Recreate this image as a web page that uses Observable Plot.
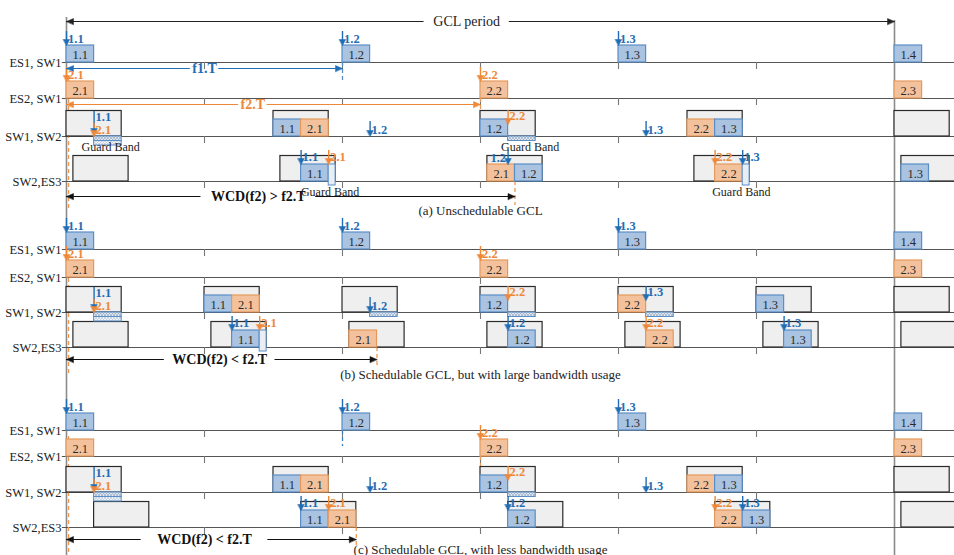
<!DOCTYPE html>
<html><head><meta charset="utf-8">
<script src="https://cdn.jsdelivr.net/npm/d3@7"></script>
<script src="https://cdn.jsdelivr.net/npm/@observablehq/plot@0.6"></script>
<style>body{margin:0;background:#fff} #chart svg{display:block}</style>
</head><body><div id="chart"></div>
<script>
// ---------- data ----------
const rowNames = ["ES1, SW1", "ES2, SW1", "SW1, SW2", "SW2,ES3"];
const panelIds = ["a", "b", "c"];
const captions = ["(a) Unschedulable GCL", "(b) Schedulable GCL, but with large bandwidth usage", "(c) Schedulable GCL, with less bandwidth usage"];
const gclPeriod = 60;            // time units (6 tick intervals)
const tickTimes = [10, 20, 30, 40, 50];

// frames: [row, start, frame id]  (every frame lasts 2 units)
const framesA = [
  [0,0,"1.1"],[0,20,"1.2"],[0,40,"1.3"],[0,60,"1.4"],
  [1,0,"2.1"],[1,30,"2.2"],[1,60,"2.3"],
  [2,15,"1.1"],[2,17,"2.1"],[2,30,"1.2"],[2,45,"2.2"],[2,47,"1.3"],
  [3,17,"1.1"],[3,30.5,"2.1"],[3,32.5,"1.2"],[3,47,"2.2"],[3,60.5,"1.3"]
];
const framesB = [
  [0,0,"1.1"],[0,20,"1.2"],[0,40,"1.3"],[0,60,"1.4"],
  [1,0,"2.1"],[1,30,"2.2"],[1,60,"2.3"],
  [2,10,"1.1"],[2,12,"2.1"],[2,30,"1.2"],[2,40,"2.2"],[2,50,"1.3"],
  [3,12,"1.1"],[3,20.5,"2.1"],[3,32,"1.2"],[3,42,"2.2"],[3,52,"1.3"]
];
const framesC = [
  [0,0,"1.1"],[0,20,"1.2"],[0,40,"1.3"],[0,60,"1.4"],
  [1,0,"2.1"],[1,30,"2.2"],[1,60,"2.3"],
  [2,15,"1.1"],[2,17,"2.1"],[2,30,"1.2"],[2,45,"2.2"],[2,47,"1.3"],
  [3,17,"1.1"],[3,19,"2.1"],[3,32,"1.2"],[3,47,"2.2"],[3,49,"1.3"]
];
// gate open windows: [row, open, close]
const gatesA = [
  [2,0,4],[2,15,19],[2,30,34],[2,45,49],[2,60,64],
  [3,0.5,4.5],[3,15.5,19.5],[3,30.5,34.5],[3,45.5,49.5],[3,60.5,64.5]
];
const gatesB = [
  [2,0,4],[2,10,14],[2,20,24],[2,30,34],[2,40,44],[2,50,54],[2,60,64],
  [3,0.5,4.5],[3,10.5,14.5],[3,20.5,24.5],[3,30.5,34.5],[3,40.5,44.5],[3,50.5,54.5],[3,60.5,64.5]
];
const gatesC = [
  [2,0,4],[2,15,19],[2,30,34],[2,45,49],[2,60,64],
  [3,2,6],[3,17,21],[3,32,36],[3,47,51],[3,60.5,64.5]
];
// arrivals: [row, time, frame id, kind]
const arrivalsA = [
  [0,0,"1.1","src"],[0,20,"1.2","src"],[0,40,"1.3","src"],
  [1,0,"2.1","src"],[1,30,"2.2","src"],
  [2,2,"1.1","q1"],[2,2,"2.1","q2"],[2,22,"1.2","qb"],[2,32,"2.2","qg"],[2,42,"1.3","qb"],
  [3,17,"1.1","eg"],[3,19,"2.1","eg"],[3,32,"1.2","egL"],[3,47,"2.2","eg"],[3,49,"1.3","eg"]
];
const arrivalsB = [
  [0,0,"1.1","src"],[0,20,"1.2","src"],[0,40,"1.3","src"],
  [1,0,"2.1","src"],[1,30,"2.2","src"],
  [2,2,"1.1","q1"],[2,2,"2.1","q2"],[2,22,"1.2","qb"],[2,32,"2.2","qg"],[2,42,"1.3","qg"],
  [3,12,"1.1","eg"],[3,14,"2.1","eg"],[3,32,"1.2","eg"],[3,42,"2.2","eg"],[3,52,"1.3","eg"]
];
const arrivalsC = [
  [0,0,"1.1","src"],[0,20,"1.2","src"],[0,40,"1.3","src"],
  [1,30,"2.2","src"],
  [2,2,"1.1","q1"],[2,2,"2.1","q2"],[2,22,"1.2","qb"],[2,32,"2.2","qg"],[2,42,"1.3","qb"],
  [3,17,"1.1","eg"],[3,19,"2.1","eg"],[3,32,"1.2","eg"],[3,47,"2.2","eg"],[3,49,"1.3","eg"]
];
// guard bands (hatched, under the line): [row, start, end, layers]
const guardsA = [[2,2,4,2],[2,32,34,1]];
const guardsB = [[2,2,4,2],[2,22,24,1],[2,32,34,1],[2,42,44,1]];
const guardsC = [[2,2,4,2],[2,32,34,1]];
// guard band tails on egress link: [row, start, end]
const tailsA = [[3,19,19.5],[3,49,49.5]];
const tailsB = [[3,14,14.5]];
const tailsC = [];
// "Guard Band" notes: [row, time]
const guardNotesA = [[2,3.2],[2,33.6],[3,19.1],[3,48.9]];
// period arrows in panel (a): [row, from, to, label, label time, flow]
const periodArrowsA = [[0,0,20,"f1.T",10,"1"],[1,0,30,"f2.T",13.5,"2"]];
// worst-case delay arrows
const wcdLabels = ["WCD(f2) > f2.T", "WCD(f2) < f2.T", "WCD(f2) < f2.T"];
const wcdEnds = [32.5, 22.5, 21];
const wcdLabelAt = [13.9, 11.1, 10];
const gclLabel = "GCL period";
const gclLabelAt = 29;

// ---------- layout / style ----------
const layout = {
  gclY: 21,
  a: {base: [62, 98, 136, 181], wcdY: 196, captionY: 210},
  b: {base: [249, 277, 312, 347], wcdY: 359, captionY: 374},
  c: {base: [430, 456, 492, 527], wcdY: 539, captionY: 549}
};
const X_RANGE = [66, 894];
const PX = (X_RANGE[1] - X_RANGE[0]) / gclPeriod;
const FRAME_W = 2, FRAME_H = 17, GATE_H = 25.5;
const flowStyle = {
  "1": {fill: "#a9c3e0", stroke: "#5b8ec6", text: "#1f6db5"},
  "2": {fill: "#f3c29d", stroke: "#e4995c", text: "#ee8838"}
};
const KIND = {
  src: {top: -31, tip: -17, lab: -23.5, side: 1},
  q1:  {top: -25, tip: -2,  lab: -20, side: 1},
  q2:  {top: -13, tip: 0,   lab: -7,  side: 1},
  qb:  {top: -15, tip: 0,   lab: -7,  side: 1},
  qg:  {top: -26, tip: -12, lab: -21, side: 1},
  eg:  {top: -31, tip: -17, lab: -25, side: 1},
  egL: {top: -31, tip: -17, lab: -24, side: -1}
};
const SERIF = "'Liberation Serif', 'Times New Roman', serif";

const panelData = {
  a: {frames: framesA, gates: gatesA, arrivals: arrivalsA, guards: guardsA, tails: tailsA, notes: guardNotesA, periods: periodArrowsA},
  b: {frames: framesB, gates: gatesB, arrivals: arrivalsB, guards: guardsB, tails: tailsB, notes: [], periods: []},
  c: {frames: framesC, gates: gatesC, arrivals: arrivalsC, guards: guardsC, tails: tailsC, notes: [], periods: []}
};

// ---------- derived tables ----------
const ctx = document.createElement("canvas").getContext("2d");
function textW(txt, font) { ctx.font = font; return ctx.measureText(txt).width; }

const baseRows = [], tickRows = [], rowLabelRows = [], gateRows = [], frameRows = [],
      guardRows = [], tailRows = [], arrowRows = [], triPts = [], noteRows = [],
      hSegs = [], hLabels = [], dashRows = [], captionRows = [];
let triId = 0;
function tri(t, y, dir, color) {
  const id = triId++;
  if (dir === "down") {
    const w = 3.2 / PX, h = 6;
    triPts.push({id, c: color, x: t - w, y: y - h}, {id, c: color, x: t + w, y: y - h}, {id, c: color, x: t, y});
  } else {
    const hx = (dir === "left" ? 7 : -7) / PX, v = 3;
    triPts.push({id, c: color, x: t, y}, {id, c: color, x: t + hx, y: y - v}, {id, c: color, x: t + hx, y: y + v});
  }
}
function hArrow(y, from, to, label, at, color, font, pad) {
  const half = (textW(label, font) / 2 + pad) / PX;
  hSegs.push({y, x1: from, x2: at - half, c: color}, {y, x1: at + half, x2: to, c: color});
  hLabels.push({y, x: at, text: label, c: color, font});
  tri(from, y, "left", color);
  tri(to, y, "right", color);
}

hArrow(layout.gclY, 0, gclPeriod, gclLabel, gclLabelAt, "#222", `14px ${SERIF}`, 9);

panelIds.forEach((p, pi) => {
  const L = layout[p], D = panelData[p], B = L.base;
  rowNames.forEach((name, r) => {
    baseRows.push({y: B[r]});
    rowLabelRows.push({y: B[r], text: name});
    tickTimes.forEach(t => tickRows.push({t, y: B[r]}));
  });
  D.gates.forEach(([r, a, b]) => gateRows.push({x1: a, x2: b, y1: B[r] - GATE_H, y2: B[r]}));
  D.frames.forEach(([r, t, id]) => {
    const s = flowStyle[id[0]];
    frameRows.push({x1: t, x2: t + FRAME_W, y1: B[r] - FRAME_H, y2: B[r], id, fill: s.fill, stroke: s.stroke});
  });
  D.guards.forEach(([r, a, b, n]) => {
    for (let k = 0; k < n; k++) guardRows.push({x1: a, x2: b, y1: B[r] + k * 4.5, y2: B[r] + (k + 1) * 4.5, layer: k});
  });
  D.tails.forEach(([r, a, b]) => tailRows.push({x1: a, x2: b, y1: B[r] - FRAME_H, y2: B[r] + 4}));
  D.notes.forEach(([r, t]) => noteRows.push({x: t, y: B[r] + 11}));
  D.arrivals.forEach(([r, t, id, kind]) => {
    const k = KIND[kind], c = flowStyle[id[0]].text;
    arrowRows.push({x: t, y1: B[r] + k.top, y2: B[r] + k.tip - 5, ly: B[r] + k.lab, text: id, side: k.side, c});
    tri(t, B[r] + k.tip, "down", c);
  });
  D.periods.forEach(([r, a, b, label, at, flow]) => {
    const c = flowStyle[flow].text;
    hArrow(B[r] + 6, a, b, label, at, c, `bold 14px ${SERIF}`, 2);
    dashRows.push({x: b, y1: B[r], y2: (flow === "1" ? B[r] + 18 : B[r + 1] - FRAME_H), c: flowStyle[flow].stroke});
  });
  hArrow(L.wcdY, 0, wcdEnds[pi], wcdLabels[pi], wcdLabelAt[pi], "#111", `bold 14px ${SERIF}`, [10, 8, 16][pi]);
  dashRows.push({x: wcdEnds[pi], y1: B[3], y2: L.wcdY + 9, c: "#ee9a55"});
  dashRows.push({x: 0.15, y1: B[1] - 20, y2: Math.min(555, L.wcdY + 14), c: "#ee9a55"});
  if (p === "c") {
    dashRows.push({x: 20, y1: B[0], y2: B[0] + 16, c: "#3b7fc0"});
    dashRows.push({x: 30, y1: B[1], y2: B[2] - FRAME_H - 1, c: "#ee9a55"});
  }
  captionRows.push({x: gclPeriod / 2, y: L.captionY, text: captions[pi]});
});

const triColors = [...new Set(triPts.map(d => d.c))];

// ---------- plot ----------
const svg = Plot.plot({
  width: 954, height: 555, margin: 0,
  x: {domain: [0, gclPeriod], range: X_RANGE, axis: null},
  y: {domain: [0, 555], range: [0, 555], axis: null},
  color: {type: "identity"},
  style: {fontFamily: SERIF, background: "#fff", overflow: "visible"},
  marks: [
    Plot.ruleX([{t: 0, top: layout.gclY - 4}, {t: gclPeriod, top: layout.gclY - 1}], {x: "t", y1: "top", y2: 555, stroke: "#8c8c8c", strokeWidth: 1.6}),
    Plot.ruleY(baseRows, {y: "y", x1: -0.3, x2: 65, stroke: "#555", strokeWidth: 1.1}),
    Plot.ruleX(tickRows, {x: "t", y1: "y", y2: d => d.y + 7, stroke: "#777", strokeWidth: 1.1}),
    Plot.ruleX(dashRows, {x: "x", y1: "y1", y2: "y2", stroke: "c", strokeWidth: 1.3, strokeDasharray: "4,3"}),
    Plot.rect(gateRows, {x1: "x1", x2: "x2", y1: "y1", y2: "y2", fill: "#efefef", stroke: "#2a2a2a", strokeWidth: 1.2}),
    Plot.rect(guardRows, {x1: "x1", x2: "x2", y1: "y1", y2: "y2", fill: d => d.layer ? "url(#hatch2)" : "url(#hatch)", stroke: "#5b8ec6", strokeWidth: 1}),
    Plot.rect(frameRows, {x1: "x1", x2: "x2", y1: "y1", y2: "y2", fill: "fill", stroke: "stroke", strokeWidth: 1.2}),
    Plot.text(frameRows, {x: d => (d.x1 + d.x2) / 2, y: d => (d.y1 + d.y2) / 2 + 0.5, text: "id", fontSize: 12.5, fill: "#2a2a2a"}),
    Plot.rect(tailRows, {x1: "x1", x2: "x2", y1: "y1", y2: "y2", fill: "#e9eef5", stroke: "#5b8ec6", strokeWidth: 1}),
    Plot.ruleX(arrowRows, {x: "x", y1: "y1", y2: "y2", stroke: "c", strokeWidth: 1.4}),
    ...triColors.map(c => Plot.line(triPts.filter(d => d.c === c), {x: "x", y: "y", z: "id", fill: c, stroke: c, strokeWidth: 0.5, curve: "linear-closed"})),
    Plot.text(arrowRows.filter(d => d.side > 0), {x: "x", y: "ly", text: "text", dx: 1.5, textAnchor: "start", fill: "c", fontSize: 12.5, fontWeight: "bold"}),
    Plot.text(arrowRows.filter(d => d.side < 0), {x: "x", y: "ly", text: "text", dx: -2, textAnchor: "end", fill: "c", fontSize: 12.5, fontWeight: "bold"}),
    Plot.ruleY(hSegs, {y: "y", x1: "x1", x2: "x2", stroke: "c", strokeWidth: 1.2}),
    Plot.text(hLabels.filter(d => d.font.startsWith("bold")), {x: "x", y: "y", text: "text", fill: "c", fontSize: 14, fontWeight: "bold"}),
    Plot.text(hLabels.filter(d => !d.font.startsWith("bold")), {x: "x", y: "y", text: "text", fill: "c", fontSize: 14}),
    Plot.text(noteRows, {x: "x", y: "y", text: () => "Guard Band", fontSize: 12, fill: "#222"}),
    Plot.text(rowLabelRows, {x: 0, y: "y", text: "text", dx: -5, textAnchor: "end", fontSize: 12.5, fill: "#222"}),
    Plot.text(captionRows, {x: "x", y: "y", text: "text", fontSize: 13, fill: "#222"})
  ]
});

// hatch patterns for guard bands
const defs = d3.select(svg).insert("defs", ":first-child");
[["hatch", "#dfe6ee", "#8ea6c2"], ["hatch2", "#f1f4f8", "#b3c3d6"]].forEach(([id, bg, fg]) => {
  const pat = defs.append("pattern").attr("id", id).attr("width", 3).attr("height", 3).attr("patternUnits", "userSpaceOnUse");
  pat.append("rect").attr("width", 3).attr("height", 3).attr("fill", bg);
  pat.append("path").attr("d", "M0,0L3,3M3,0L0,3").attr("stroke", fg).attr("stroke-width", 0.6);
});
document.getElementById("chart").appendChild(svg);
</script>
</body></html>
